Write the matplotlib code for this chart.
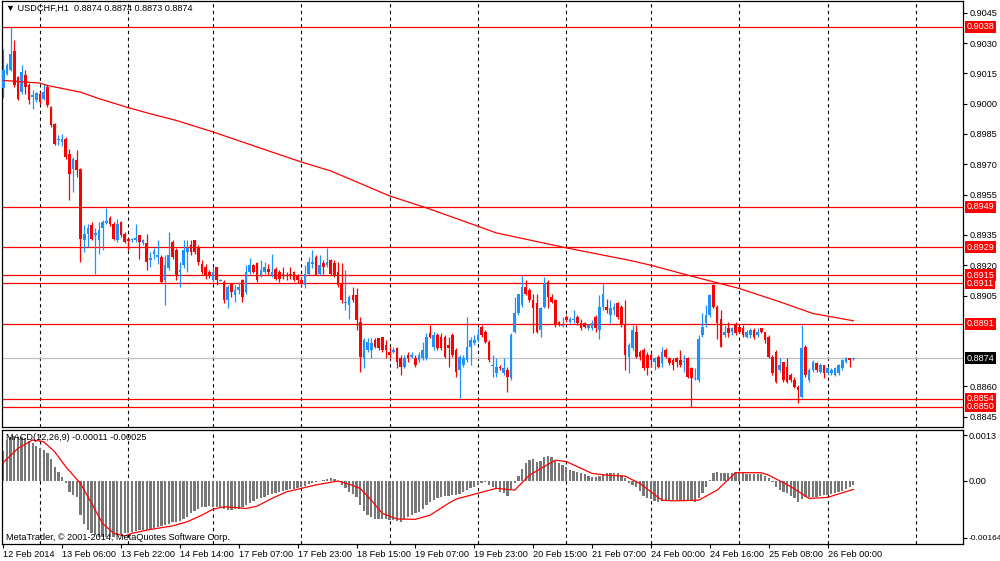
import matplotlib
matplotlib.use('Agg')
import matplotlib.pyplot as plt
import matplotlib.transforms as mtransforms
import numpy as np

plt.rcParams['font.family'] = ['Liberation Sans', 'DejaVu Sans']

# ---------------- data (prices in pips above 0.8800) ----------------
BASE = 0.88
opens = [
    208, 214.8, 216.5, 226.3, 213.2, 205.8, 214, 209, 203.5, 202,
    204.9, 202.5, 208.2, 198.3, 190, 182, 181, 182.7, 175.3, 167.8,
    172, 167.8, 132.4, 135.7, 139.8, 135, 132.4, 138.2, 141, 143.6,
    140.6, 132.4, 141.5, 135.7, 133.2, 132.4, 132.4, 134.9, 130.8, 130.8,
    122.5, 125.8, 124.1, 124.1, 112.6, 118.4, 131.6, 127.4, 116.7, 120,
    126.6, 129.9, 132.4, 129.1, 120.8, 119.2, 116.7, 112.6, 119.2, 112.4,
    111.8, 102.7, 111, 105.2, 107.7, 112.6, 106.8, 116.7, 120.3, 121.3,
    115.1, 116.7, 117.9, 115.4, 117.9, 116.7, 115.9, 115.9, 115.9, 116.7,
    115.4, 112.9, 110.1, 115.9, 120.5, 124.1, 115.9, 120.9, 120, 122.5,
    120.9, 116.7, 110.9, 101.1, 100.2, 105.2, 105.2, 92, 73.9, 78,
    78, 82.9, 83.8, 84.6, 80.5, 77.2, 77.2, 78.8, 73.9, 69.7,
    75.5, 74.7, 73.9, 73.1, 73.9, 73.9, 86.2, 79.6, 85.4, 84.6,
    84.6, 80.5, 85.4, 78, 68.1, 70.6, 73, 79.6, 81.3, 82.9,
    89.5, 87.1, 82.1, 70.1, 66.4, 69.7, 66.4, 68.1, 64, 87.1,
    96.1, 100.2, 109.3, 107.6, 102.7, 101.1, 87.9, 99.4, 111.8, 104.4,
    102.7, 92, 90, 94.5, 92, 92.8, 94.5, 91.2, 91.2, 88.7,
    88.7, 94.5, 87.9, 99.4, 99.4, 95.3, 97.8, 101.1, 99.4, 90.3,
    74.7, 78.8, 87.1, 77.2, 78, 75.5, 75.5, 72.2, 74.7, 71.4,
    78, 73.9, 73, 73.9, 73, 72, 73.9, 68.9, 63.8, 63.1,
    85.4, 91.2, 95.3, 110.1, 99.4, 93.6, 85.4, 88.7, 87.1, 90.3,
    89.5, 88.7, 84.6, 85.4, 87.9, 85.4, 88.7, 87.1, 84.6, 74.7,
    77.2, 68.1, 72.2, 69.7, 65.6, 63.1, 59.8, 54.9, 79.6, 63.1,
    68.1, 71.4, 67.3, 70.6, 66.4, 66.4, 65.6, 66.4, 68.9, 72.2,
    73.9, 73.4,
]
highs = [
    227, 220, 237.9, 231.3, 213.5, 218.9, 216.5, 210, 206.6, 206,
    206, 209.9, 209, 199, 190.5, 184.3, 185.1, 183.5, 177.7, 173.5,
    176.9, 168, 139.8, 140.6, 141.5, 138.2, 141.5, 142.3, 148.1, 144.5,
    141.5, 143.1, 142, 136.5, 133.5, 133.5, 140.6, 135, 133, 135.7,
    126.6, 128.3, 132.4, 125, 125, 136.5, 132.4, 128.3, 121.7, 132.4,
    132.4, 132.4, 132.4, 129.9, 122.5, 120.8, 117.5, 119.2, 119.2, 113.4,
    112.6, 110.1, 111, 110.1, 111.8, 113.4, 120, 123.6, 120.8, 121.7,
    122.5, 121.7, 120.8, 125.8, 119.2, 117.5, 119.2, 116.7, 119.2, 117,
    115.9, 114.3, 120, 124.1, 127.4, 125, 125, 122.5, 128.3, 123.3,
    122.5, 121.7, 120.9, 117.5, 105.2, 109.3, 108.5, 94.5, 83.8, 83.8,
    83.8, 83.8, 83.8, 84.6, 82.9, 79.6, 79.6, 79.6, 75.5, 75.5,
    77.2, 77.2, 75.5, 77.2, 82.1, 86.2, 90.4, 87, 86.2, 86.2,
    85.4, 84.6, 86.2, 78.8, 75.5, 75.5, 94.5, 84.6, 85.4, 88.7,
    90.3, 87.9, 82.9, 75.5, 73.9, 70.6, 73.9, 69.7, 86.2, 104.4,
    106, 114.6, 112.6, 108.5, 106, 106, 99.4, 114.3, 112.6, 106,
    103.5, 92.5, 94.5, 95.5, 94.5, 97.8, 95.3, 93.6, 92, 91,
    92.8, 95.3, 105.2, 110.6, 103.5, 102.7, 101.1, 101.9, 100.2, 102.7,
    81.3, 90.3, 90.3, 78, 78.8, 77.2, 76.3, 74.7, 75.5, 79.6,
    78.8, 74.7, 73.9, 74.7, 78, 75.5, 74.7, 69.7, 68.9, 85.4,
    96.1, 100.2, 106, 110.6, 100.2, 97.8, 90.3, 92, 89.5, 92,
    90, 90.3, 87.9, 88.7, 88.7, 88.7, 89, 87.1, 85.4, 75.5,
    78, 73.9, 72.2, 73.9, 66.4, 64.8, 60.7, 90.3, 80.5, 68.9,
    73, 72.2, 71.4, 70.6, 69.7, 68.9, 69.4, 71, 73.4, 74.7,
    73.9, 74.2,
]
lows = [
    203, 214, 216, 208.2, 201.6, 205, 204.9, 200, 197.5, 200.8,
    200, 201.6, 198.3, 188.5, 179.5, 179.4, 178.9, 172.8, 152.2, 156.3,
    163.7, 121.7, 126.6, 129.1, 132.4, 115.9, 125.8, 127.4, 140.6, 139.5,
    132.4, 131.6, 134, 131, 127.4, 131.5, 131.6, 123.3, 130, 117.5,
    119, 123.3, 120.8, 111, 100.2, 117.5, 123.3, 112.6, 109.3, 118.4,
    116.7, 125, 125.8, 120, 115.9, 113.4, 113.8, 111.8, 110.1, 112,
    101.1, 98.9, 104.4, 101.9, 106, 101.9, 106, 115.9, 116.4, 111.8,
    114.2, 115.9, 115.4, 114.2, 112.6, 111.8, 113.4, 112.6, 113.4, 112,
    111, 109.3, 108.5, 115.1, 118.4, 115.1, 115.1, 115.9, 119.2, 115.1,
    114.3, 109.3, 101.1, 97.8, 93.6, 101.9, 87.9, 67.3, 68.9, 77.2,
    73.9, 78.8, 78, 77.2, 73.9, 73.9, 76.4, 68.9, 65.6, 68.9,
    72.2, 73.9, 69.7, 72.2, 73.1, 73.1, 83.8, 78, 78, 78,
    73.9, 69.7, 74.7, 64.8, 54.1, 69.7, 72.2, 70.6, 80.5, 82.1,
    84.6, 81.3, 72.2, 64.8, 64.8, 68.1, 65.6, 57.4, 63.1, 86.2,
    95.3, 99.4, 105.2, 101.9, 86.2, 86.2, 84.6, 98.6, 98.6, 101.1,
    89.5, 89.8, 89.5, 92, 91.5, 91.2, 90.3, 87.9, 89, 88,
    87.9, 87.1, 83.7, 97.8, 96.1, 91.2, 95.3, 93.6, 89.5, 68.1,
    66.4, 78, 73.9, 73, 68.1, 65.6, 69.7, 68.1, 68.9, 69.7,
    73.9, 70.6, 68.1, 69.7, 69.7, 67.3, 64, 50, 63.1, 62.3,
    84.6, 89.5, 94.5, 98.6, 83.7, 79.3, 84.6, 84.6, 85.4, 85.4,
    86.5, 84.6, 84.2, 84.2, 83.7, 84.6, 86.2, 81.3, 74.3, 65.6,
    61.5, 67.3, 62.3, 61.5, 62.3, 59, 51.6, 54.1, 64.8, 62.3,
    67.3, 67.3, 66.4, 64, 65.6, 65.6, 65.1, 65.6, 68.1, 71.4,
    69.7, 73,
]
closes = [
    216.5, 219, 224.7, 209, 202.5, 215.6, 208.2, 201.6, 204.5, 205.2,
    200.8, 205.8, 199.2, 189.3, 180.2, 182.7, 182.7, 173.6, 165.4, 172.8,
    167, 133.2, 135.7, 138.2, 133.2, 135.8, 137.3, 141.5, 141.8, 140.3,
    133.2, 140.6, 134.9, 131.6, 132, 133.2, 133.7, 131.6, 132.4, 121.7,
    123.6, 127, 125, 111.8, 120, 125, 124.1, 115.1, 117.5, 127.4,
    128.3, 126.6, 126.6, 121.7, 116.7, 115.1, 115.4, 116.7, 112.6, 112.8,
    102.7, 109.3, 106.8, 107.7, 109.3, 104.4, 116.7, 120, 116.7, 112.6,
    117.5, 119.2, 116.7, 116.7, 113.4, 113.4, 115.1, 115.6, 115.1, 112.6,
    112.6, 111, 115.9, 121.7, 121.7, 115.1, 120, 119.2, 121.7, 115.9,
    115.1, 110.1, 102.7, 101.9, 104.4, 102.7, 92.8, 74.7, 82.9, 82.1,
    81.3, 79.6, 78.8, 78, 78, 75.5, 78, 72.2, 69.7, 73.9,
    73.9, 75.5, 70.6, 75.5, 78, 84.6, 84.6, 85.4, 78.8, 78.8,
    74.7, 78.8, 75.5, 67.3, 74.7, 73.9, 79.6, 82.9, 82.9, 85.4,
    85.4, 82.1, 73, 70.6, 69.7, 68.9, 68.9, 64.8, 85.4, 96.1,
    106, 109.3, 106, 102.7, 98.6, 87.1, 98.6, 111, 104.4, 101.9,
    90.3, 90.3, 90.5, 92.8, 93.6, 93.6, 91.2, 88.7, 89.5, 90.3,
    91.2, 88.7, 99.4, 106, 97.8, 98.6, 99.4, 94.5, 90.3, 75.5,
    80.5, 87.9, 74.7, 74.7, 68.9, 68.9, 73, 73.9, 69.7, 77.2,
    74.7, 71.4, 70.6, 72.2, 70.6, 72.4, 64.8, 64, 64.2, 83.7,
    89.5, 95.3, 105.2, 99.4, 91.2, 79.6, 87.1, 86.2, 88.7, 86.2,
    87.1, 85.4, 87.1, 87.9, 84.6, 87.1, 87.1, 82.9, 74.7, 66.4,
    62.3, 70.6, 63.1, 62.3, 63.1, 59.8, 58.2, 78.8, 65.6, 68.1,
    72.2, 68.1, 70.6, 66.4, 68.9, 68.1, 68.9, 70.6, 73, 73.9,
    73, 74,
]

# moving average (sampled, pips above 0.8800)
ma_idx = [0, 10, 12, 21, 26, 34, 40, 47, 57, 81, 89, 105, 115, 129, 134,
          153, 170, 176, 187, 200, 211, 220, 224, 231]
ma_pips = [211.5, 210.2, 209, 205.7, 202.5, 198, 195, 191.7, 186, 171.1,
           166.7, 154.3, 148.4, 139.3, 136, 128.6, 122.5, 120, 114.6, 108.5,
           101.9, 96.1, 94.8, 92.5]

# MACD histogram (units of 0.0001)
macd_hist = [
    8.6, 11.7, 12.6, 12.8, 12.6, 12.6, 12.2, 11.5, 10.7, 10,
    9.3, 8.8, 7.9, 6.1, 4, 2.4, 1, -0.8, -3.2, -4.1,
    -4.6, -9.9, -12.3, -14.2, -14.9, -15.6, -16.1, -16.3, -16.1, -16.3,
    -16.1, -15.6, -15.3, -15.1, -14.9, -14.7, -14.5, -14.2, -14.2, -14.2,
    -14, -13.7, -13.2, -13, -12.8, -12.5, -11.8, -11.8, -11.5, -11,
    -10.3, -9.4, -8.6, -8.2, -7.7, -7.5, -7.3, -7.5, -7.7, -7.7,
    -8.2, -8.4, -8.4, -8.2, -8, -7.7, -7, -6.3, -5.7, -5.4,
    -5.1, -4.6, -4.1, -3.8, -3.4, -3.2, -2.9, -2.7, -2.5, -2.3,
    -2.1, -1.9, -1.5, -1, -0.6, -0.4, -0.2, 0.2, 0.4, 0.7,
    0.4, -0.3, -1.2, -2.2, -3.2, -3.8, -4.8, -7, -8.6, -9.9,
    -10.5, -11.1, -11.1, -11.1, -11.1, -11.3, -11.3, -11.6, -11.8, -11.1,
    -10.5, -9.9, -9.4, -8.9, -8, -7, -6, -5.6, -5.1, -4.6,
    -4.4, -4.4, -4.1, -4.1, -3.8, -3.2, -2.7, -2.2, -1.7, -1.2,
    -0.6, -0.3, -1.2, -1.7, -2.2, -3.2, -3.6, -4.4, -2.7, -0.8,
    1.3, 3.5, 5.2, 5.9, 6.1, 5.5, 5.7, 6.9, 7.1, 6.7,
    5.7, 5, 4.5, 4, 3.1, 2.8, 2.6, 2.1, 1.8, 1.3,
    1, 1, 1.3, 1.9, 2.1, 2.3, 2.1, 2.1, 1.6, 0.7,
    -0.6, -1.2, -1.7, -2.9, -4.4, -5.1, -5.4, -5.7, -6, -5.8,
    -5.6, -5.6, -5.6, -5.6, -5.6, -5.6, -5.6, -5.7, -6, -5.1,
    -3.6, -1.7, 0.2, 2.1, 2.6, 2.3, 2.3, 2.3, 2.3, 2.6,
    2.3, 2.1, 1.9, 1.9, 1.9, 1.9, 1.8, 1.3, 0.7, -0.3,
    -1.7, -2.7, -3.2, -3.6, -4.4, -5.1, -6, -5.4, -4.8, -4.8,
    -4.6, -4.6, -4.4, -4.1, -4.1, -3.8, -3.4, -3.2, -2.9, -2.5,
    -1.7, -1.1,
]
# MACD signal line (sampled, units of 0.0001)
sig_idx = [0, 4, 8, 11, 14, 17, 21, 25, 27, 30, 33, 35, 40, 46, 50, 54, 57,
           60, 63, 66, 69, 73, 77, 81, 85, 91, 94, 97, 100, 103, 107, 112,
           116, 121, 123, 129, 134, 139, 143, 150, 153, 160, 164, 169, 173,
           179, 182, 189, 194, 199, 206, 208, 214, 219, 224, 231]
sig_val = [5.2, 9.3, 11.7, 11.2, 8.3, 4, -0.8, -8.4, -12.3, -15.1, -15.9,
           -15.1, -14, -13, -11.8, -9.9, -8.2, -7.5, -7.7, -8, -7.3, -5.1,
           -3.2, -2.2, -1.2, -0.1, -1, -2.2, -5.6, -9.4, -11, -11.1, -9.9,
           -6.5, -5.3, -3.6, -2.2, -2.7, 1.6, 5.9, 5.5, 2.1, 1.6, 1.3, -0.8,
           -5.6, -5.8, -5.6, -2.7, 2.3, 2.3, 1.6, -1.7, -5.1, -4.8, -2.5]

levels = [0.9038, 0.8949, 0.8929, 0.8915, 0.8911, 0.8891, 0.8854, 0.8850]
current_price = 0.8874
price_ticks = [0.9045, 0.9030, 0.9015, 0.9000, 0.8985, 0.8970, 0.8955,
               0.8935, 0.8920, 0.8905, 0.8860, 0.8845]
day_lines = [10, 34, 57, 81, 105, 129, 153, 176, 200, 224, 248]
xtick_idx = [0, 16, 32, 48, 64, 80, 96, 112, 128, 144, 160, 176, 192, 208, 224]
xtick_labels = ['12 Feb 2014', '13 Feb 06:00', '13 Feb 22:00', '14 Feb 14:00',
                '17 Feb 07:00', '17 Feb 23:00', '18 Feb 15:00', '19 Feb 07:00',
                '19 Feb 23:00', '20 Feb 15:00', '21 Feb 07:00', '24 Feb 00:00',
                '24 Feb 16:00', '25 Feb 08:00', '26 Feb 00:00']
macd_ticks = [0.0013, 0.0, -0.00164]
macd_tick_labels = ['0.0013', '0.00', '-0.00164']

assert len(opens) == len(highs) == len(lows) == len(closes) == len(macd_hist) == 232

# ---------------- figure ----------------
W, H = 1000, 561
fig = plt.figure(figsize=(W / 100, H / 100), dpi=100)
fig.patch.set_facecolor('white')

x_left, x_right = 2, 963
main_top, main_bot = 0.5, 427
macd_top, macd_bot = 430, 544

def fx(px):
    return px / W

def fy(py):
    return 1 - py / H

ax = fig.add_axes([fx(x_left), fy(main_bot), fx(x_right - x_left), (main_bot - main_top) / H])
ax2 = fig.add_axes([fx(x_left), fy(macd_bot), fx(x_right - x_left), (macd_bot - macd_top) / H])

xmin, xmax = -0.33, 260.8
FS = 6.6

o = BASE + np.array(opens) / 1e4
h = BASE + np.array(highs) / 1e4
l = BASE + np.array(lows) / 1e4
c = BASE + np.array(closes) / 1e4
idx = np.arange(len(o))
up = c >= o
cols = np.where(up, '#1E90FF', '#FF0000')

for a in (ax, ax2):
    a.set_xlim(xmin, xmax)
    a.set_facecolor('white')
    for s in a.spines.values():
        s.set_color('black')
        s.set_linewidth(0.9)
    for d in day_lines:
        a.axvline(d, color='black', lw=0.8, ls=(0, (3, 3)), zorder=0.5)

# main panel
ax.set_ylim(0.883990, 0.905108)
for lv in levels:
    ax.axhline(lv, color='#FF0000', lw=0.9, zorder=1)
ax.axhline(current_price, color='#C0C0C0', lw=0.9, zorder=1)

ax.vlines(idx, l, h, colors=cols, lw=0.9, zorder=2)
body_bot = np.minimum(o, c)
body_h = np.maximum(np.abs(c - o), 0.00003)
ax.bar(idx, body_h, bottom=body_bot, width=0.72, color=cols, linewidth=0, zorder=3)

ax.plot(ma_idx, BASE + np.array(ma_pips) / 1e4, color='#FF0000', lw=0.9, zorder=4)

ax.yaxis.tick_right()
ax.set_yticks(price_ticks)
ax.set_yticklabels([f'{v:.4f}' for v in price_ticks], fontsize=FS)
ax.tick_params(axis='y', direction='out', length=3, width=0.8, pad=1.5, colors='black')
ax.set_xticks([])

trans = mtransforms.blended_transform_factory(ax.transAxes, ax.transData)
for lv in levels:
    ax.text(1.004, lv, f'{lv:.4f}', transform=trans, fontsize=FS, color='white',
            ha='left', va='center', clip_on=False, zorder=10,
            bbox=dict(facecolor='#FF0000', edgecolor='none', pad=1.0))
ax.text(1.004, current_price, f'{current_price:.4f}', transform=trans, fontsize=FS,
        color='white', ha='left', va='center', clip_on=False, zorder=10,
        bbox=dict(facecolor='black', edgecolor='none', pad=1.0))

ax.text(0.004, 0.981, '\u25bc USDCHF,H1  0.8874 0.8874 0.8873 0.8874',
        transform=ax.transAxes, fontsize=FS, ha='left', va='center', color='black',
        family=['Liberation Sans', 'DejaVu Sans'], zorder=10)

# MACD panel
ax2.set_ylim(-0.001819, 0.001457)
ax2.bar(idx, np.array(macd_hist) / 1e4, width=0.62, color='#777777', linewidth=0, zorder=2)
ax2.plot(sig_idx, np.array(sig_val) / 1e4, color='#FF0000', lw=0.9, zorder=3)
ax2.yaxis.tick_right()
ax2.set_yticks(macd_ticks)
ax2.set_yticklabels(macd_tick_labels, fontsize=FS)
ax2.tick_params(axis='y', direction='out', length=3, width=0.8, pad=1.0, colors='black')
for lab in ax2.get_yticklabels():
    if lab.get_text().startswith('-'):
        lab.set_fontsize(6.0)
ax2.set_xticks(xtick_idx)
ax2.set_xticklabels(xtick_labels, fontsize=FS)
ax2.tick_params(axis='x', direction='out', length=3, width=0.8, pad=1.5, colors='black')
for lab in ax2.get_xticklabels():
    lab.set_horizontalalignment('left')

ax2.text(0.004, 0.936, 'MACD(12,26,9) -0.00011 -0.00025', transform=ax2.transAxes,
         fontsize=FS, ha='left', va='center', color='black', zorder=10)
ax2.text(0.004, 0.059, 'MetaTrader, \u00a9 2001-2014, MetaQuotes Software Corp.',
         transform=ax2.transAxes, fontsize=FS, ha='left', va='center', color='black', zorder=10)

fig.savefig('out.png', dpi=100, facecolor='white')
